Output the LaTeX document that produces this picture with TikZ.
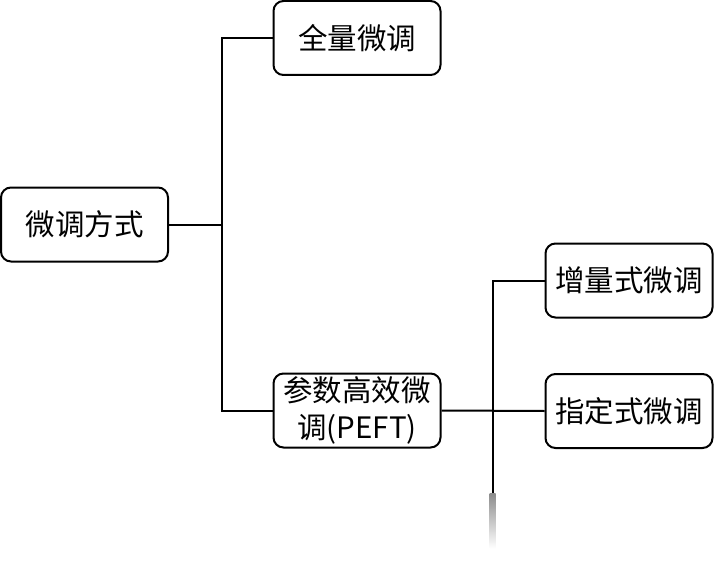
\documentclass[tikz,border=0pt]{standalone}
\usepackage{fontspec}
\setmainfont{Noto Sans CJK SC}
\begin{document}
\begin{tikzpicture}[x=1pt,y=-1pt,
  box/.style={draw,line width=2pt,rounded corners=10pt,minimum width=167pt,minimum height=74pt,inner sep=0pt,align=center,font=\fontsize{29.5}{37}\selectfont},
  conn/.style={line width=2pt}]
\useasboundingbox (0,0) rectangle (714,580);
\node[box] (root) at (84.5,224.5) {微调方式};
\node[box] (full) at (357,38) {全量微调};
\node[box] (peft) at (357,410.5) {参数高效微\\调(PEFT)};
\node[box] (inc) at (629,280.5) {增量式微调};
\node[box] (spec) at (629,411) {指定式微调};
\draw[conn] (root.east) -- ++(53,0) coordinate (j1) |- (full.west);
\draw[conn] (j1) |- (peft.west);
\draw[conn] (peft.east) -- (spec.west);
\draw[conn] (inc.west) -- ++(-52,0) -- ++(0,213) coordinate (tail);
\shade[top color=black!45,bottom color=white] ([xshift=-3pt]tail) rectangle ([xshift=3pt,yshift=-55pt]tail);
\end{tikzpicture}
\end{document}
